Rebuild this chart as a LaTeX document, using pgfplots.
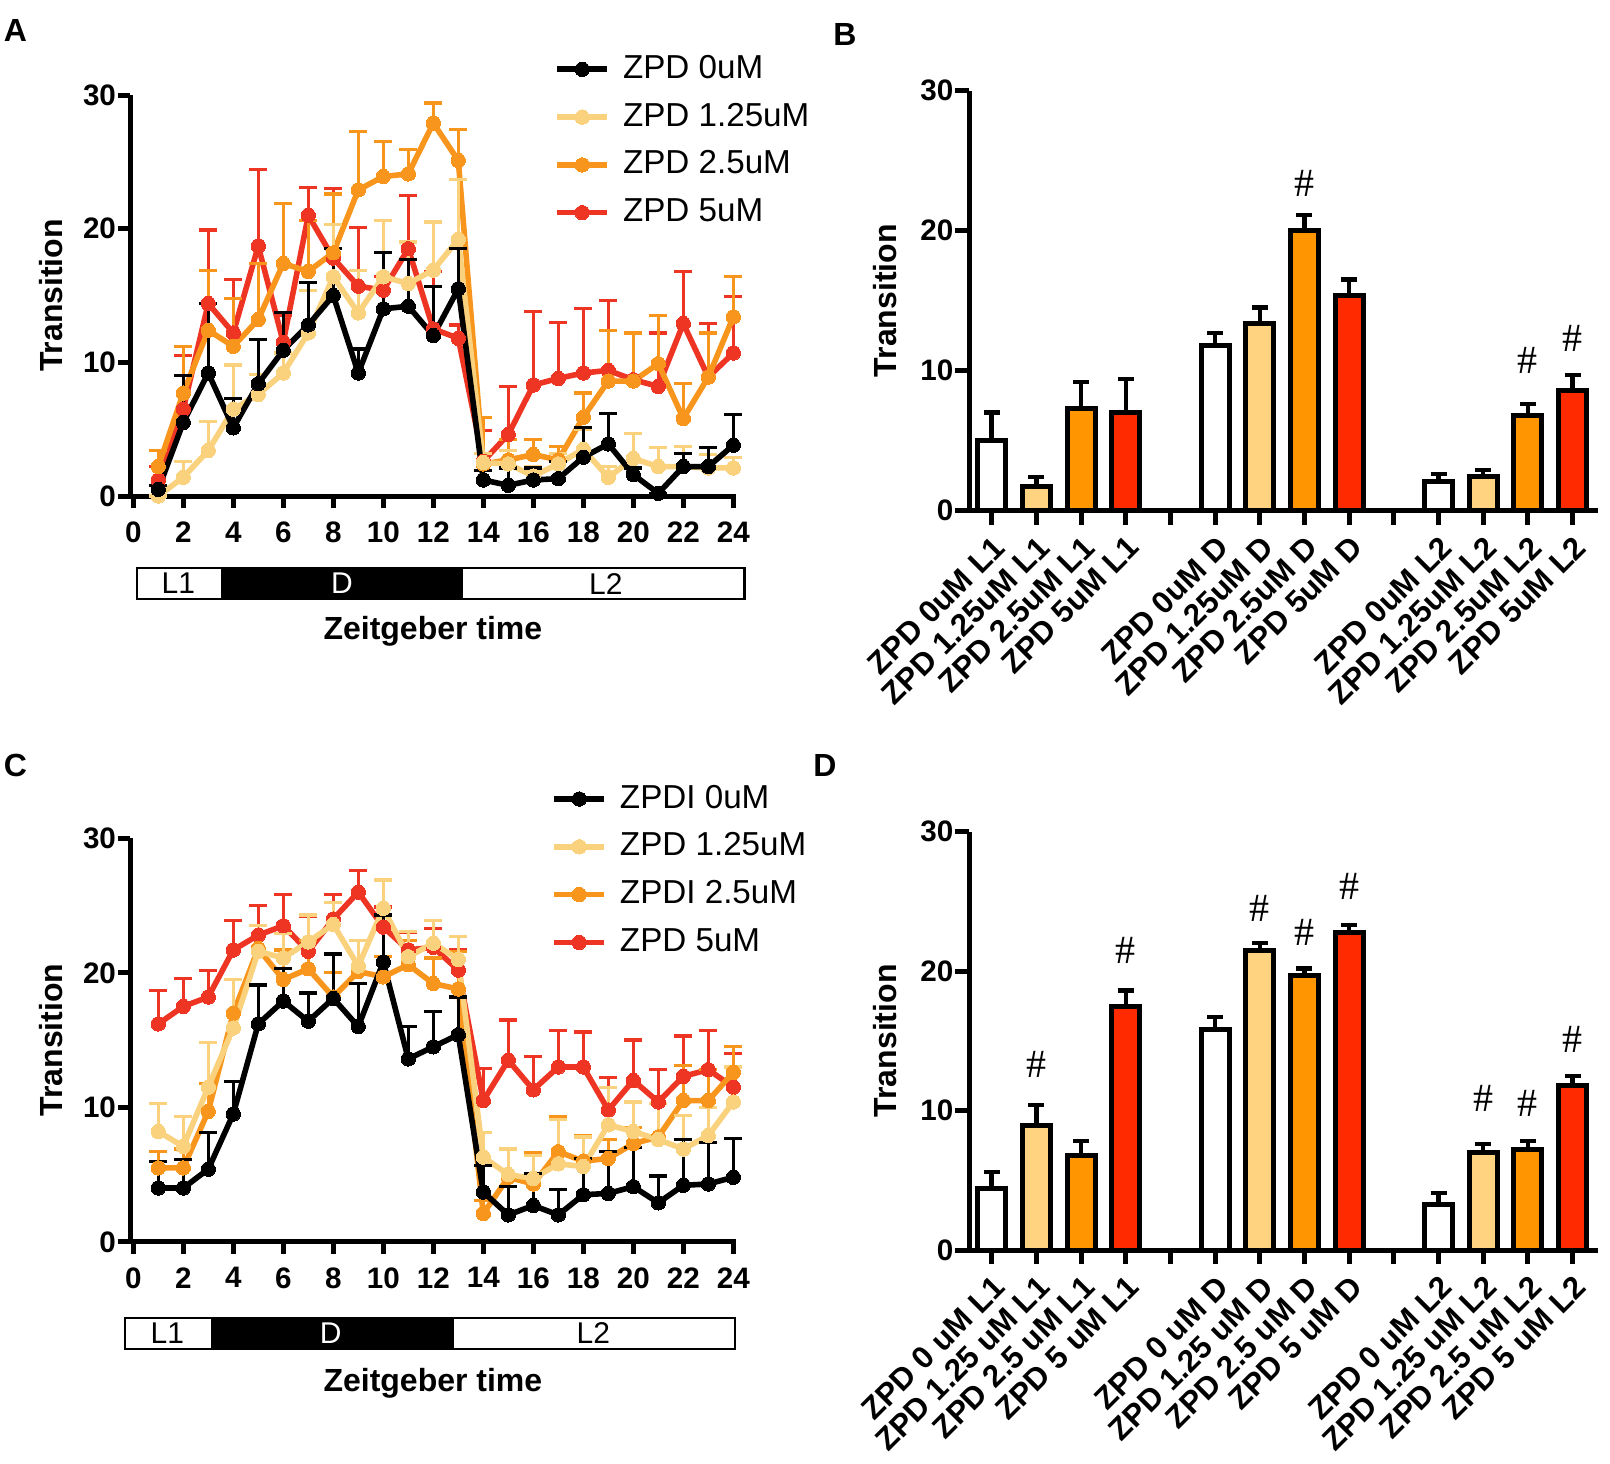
\documentclass[border=0pt]{standalone}
\usepackage{fontspec}
\setmainfont{Liberation Sans}
\newfontfamily\hashfont{Liberation Serif}
\usepackage{pgfplots}
\pgfplotsset{compat=1.18}
\usepackage{pgfplotstable}

\definecolor{clite}{HTML}{FAD17C}
\definecolor{corange}{HTML}{F8951D}
\definecolor{cred}{HTML}{EE3524}
\definecolor{blite}{HTML}{FFD37F}
\definecolor{borange}{HTML}{FF9500}
\definecolor{bred}{HTML}{FF2A00}

% ---------- Panel A data ----------
\pgfplotstableread{
x y e
1 0.5 0.3
2 5.5 3.5
3 9.2 5.2
4 5.1 2.2
5 8.4 3.3
6 10.9 2.8
7 12.8 3.2
8 15.0 3.5
9 9.2 1.8
10 14.0 4.2
11 14.2 3.5
12 12.0 3.7
13 15.5 3.0
14 1.2 0.7
15 0.8 1.3
16 1.2 0.9
17 1.3 1.3
18 2.9 2.2
19 3.9 2.3
20 1.6 0.5
21 0.2 0.0
22 2.2 1.0
23 2.2 1.4
24 3.8 2.3
}\Ablack
\pgfplotstableread{
x y e
1 0.0 0.0
2 1.4 1.2
3 3.4 2.2
4 6.5 3.3
5 7.6 1.5
6 9.2 1.5
7 12.2 3.2
8 16.4 3.9
9 13.7 3.2
10 16.4 4.2
11 15.9 3.1
12 16.9 3.6
13 19.2 4.5
14 2.5 0.7
15 2.4 1.0
16 1.5 0.7
17 2.4 0.8
18 3.5 1.5
19 1.4 0.8
20 2.8 1.9
21 2.2 1.4
22 2.2 1.5
23 2.1 1.0
24 2.1 0.8
}\Alite
\pgfplotstableread{
x y e
1 2.2 1.2
2 7.7 3.5
3 12.4 4.5
4 11.2 3.6
5 13.2 4.2
6 17.4 4.5
7 16.8 3.8
8 18.2 4.4
9 22.9 4.4
10 23.9 2.6
11 24.1 1.8
12 27.9 1.5
13 25.1 2.3
14 2.4 3.5
15 2.7 1.5
16 3.1 1.1
17 2.7 1.0
18 5.9 1.8
19 8.6 3.8
20 8.6 3.6
21 9.9 3.6
22 5.8 2.6
23 8.9 3.3
24 13.4 3.0
}\Aorange
\pgfplotstableread{
x y e
1 1.2 1.0
2 6.5 4.0
3 14.4 5.5
4 12.2 4.0
5 18.7 5.7
6 11.5 2.0
7 21.0 2.1
8 17.8 5.2
9 15.7 4.4
10 15.4 1.0
11 18.5 4.0
12 12.5 4.3
13 11.8 1.0
14 2.6 2.3
15 4.6 3.6
16 8.3 5.5
17 8.8 4.2
18 9.2 4.8
19 9.4 5.2
20 8.7 3.5
21 8.2 4.0
22 12.9 3.9
23 8.9 4.0
24 10.7 4.2
}\Ared

% ---------- Panel C data ----------
\pgfplotstableread{
x y e
1 4.0 2.0
2 4.0 2.1
3 5.4 2.7
4 9.5 2.4
5 16.2 2.9
6 17.9 2.4
7 16.4 2.1
8 18.1 3.3
9 16.0 3.2
10 20.8 3.5
11 13.6 2.4
12 14.5 2.6
13 15.4 2.8
14 3.7 2.0
15 2.0 2.1
16 2.7 2.4
17 2.0 1.9
18 3.5 2.7
19 3.6 3.1
20 4.1 2.9
21 2.9 2.0
22 4.2 3.4
23 4.3 3.1
24 4.8 2.9
}\Cblack
\pgfplotstableread{
x y e
1 8.2 2.1
2 7.1 2.2
3 11.5 3.3
4 15.9 3.6
5 21.6 1.9
6 21.1 1.8
7 22.3 2.0
8 23.6 1.6
9 20.5 1.9
10 24.8 2.1
11 21.2 1.9
12 22.2 1.7
13 21.0 1.7
14 6.3 1.8
15 5.0 1.9
16 4.7 1.7
17 5.8 3.3
18 5.6 2.2
19 8.7 2.8
20 8.2 2.2
21 7.6 2.7
22 6.9 2.5
23 7.9 2.1
24 10.4 2.6
}\Clite
\pgfplotstableread{
x y e
1 5.5 1.2
2 5.5 1.4
3 9.7 2.1
4 17.0 2.5
5 21.8 1.7
6 19.5 2.2
7 20.3 2.1
8 18.2 1.8
9 20.1 2.3
10 19.7 1.5
11 20.6 1.8
12 19.2 1.9
13 18.8 2.8
14 2.1 1.0
15 4.8 2.1
16 4.3 2.3
17 6.7 2.6
18 6.0 1.9
19 6.2 1.4
20 7.3 1.2
21 7.8 2.5
22 10.5 2.6
23 10.5 2.3
24 12.6 1.9
}\Corange
\pgfplotstableread{
x y e
1 16.2 2.5
2 17.5 2.1
3 18.2 2.0
4 21.7 2.2
5 22.8 2.2
6 23.5 2.3
7 21.6 2.6
8 24.0 1.8
9 26.0 1.6
10 23.4 1.5
11 21.7 1.3
12 21.9 1.4
13 20.2 1.5
14 10.5 2.4
15 13.5 3.0
16 11.3 2.5
17 13.0 2.7
18 13.0 2.6
19 9.8 2.4
20 12.0 3.0
21 10.4 2.4
22 12.3 3.0
23 12.8 2.9
24 11.5 2.5
}\Cred

% ---------- Panel B data ----------
\pgfplotstableread{
x y e
1 5.0 2.0
6 11.8 0.9
11 2.1 0.5
}\Bwhite
\pgfplotstableread{
x y e
2 1.7 0.7
7 13.4 1.1
12 2.4 0.5
}\Blite
\pgfplotstableread{
x y e
3 7.3 1.9
8 20.0 1.1
13 6.8 0.8
}\Borange
\pgfplotstableread{
x y e
4 7.0 2.4
9 15.4 1.1
14 8.6 1.1
}\Bred

% ---------- Panel D data ----------
\pgfplotstableread{
x y e
1 4.4 1.2
6 15.8 0.9
11 3.3 0.8
}\Dwhite
\pgfplotstableread{
x y e
2 8.9 1.5
7 21.5 0.5
12 7.0 0.6
}\Dlite
\pgfplotstableread{
x y e
3 6.8 1.0
8 19.7 0.5
13 7.2 0.6
}\Dorange
\pgfplotstableread{
x y e
4 17.5 1.1
9 22.8 0.5
14 11.8 0.7
}\Dred

\pgfplotsset{
  prism/.style={
    scale only axis, clip=false,
    axis lines=left,
    axis line style={line width=2.5pt,-},
    every tick/.style={black,line width=2.5pt},
    tick align=outside,
    major tick length=6pt,
    ymin=0, ymax=30, ytick={0,10,20,30},
    ticklabel style={font=\fontsize{14.8}{15}\selectfont\bfseries},
    yticklabel style={xshift=2.5pt},
    /pgf/number format/assume math mode=true,
    label style={font=\fontsize{16}{18}\selectfont\bfseries},
  },
  ser/.style={color=#1, line width=2.8pt, mark=*, mark size=3.6pt,
    mark options={solid, fill=#1, draw=#1, line width=0pt},
    error bars/.cd, y dir=plus, y explicit,
    error bar style={line width=1.6pt, color=#1},
    error mark options={rotate=90, mark size=4.5pt, line width=1.6pt, color=#1}},
  bser/.style={ybar, bar width=14pt, bar shift=0pt, fill=#1, draw=black, line width=2.5pt,
    error bars/.cd, y dir=plus, y explicit,
    error bar style={line width=2.2pt, black},
    error mark options={rotate=90, mark size=4pt, line width=2.2pt, black}},
  lineleg/.style={
    legend image code/.code={\draw[mark repeat=2,mark phase=2,##1] plot coordinates {(0pt,0pt) (12.5pt,0pt) (25pt,0pt)};},
    reverse legend, legend cell align=left,
    legend style={draw=none, fill=none, anchor=north west,
      font=\fontsize{16.6}{18}\selectfont, row sep=6.3pt,
      nodes={inner sep=1pt, text height=12.3pt, text depth=3.3pt},
      /tikz/every odd column/.append style={column sep=5.5pt}},
  },
}

\begin{document}
\begin{tikzpicture}
\useasboundingbox (0pt,0pt) rectangle (805pt,-731.5pt);

% panel letters
\node[font=\fontsize{16}{16}\selectfont\bfseries] at (7.7pt,-15pt) {A};
\node[font=\fontsize{16}{16}\selectfont\bfseries] at (422.5pt,-17pt) {B};
\node[font=\fontsize{16}{16}\selectfont\bfseries] at (7.7pt,-382.5pt) {C};
\node[font=\fontsize{16}{16}\selectfont\bfseries] at (412.5pt,-382.5pt) {D};

% ================= Panel A =================
\begin{axis}[prism, lineleg,
  at={(65pt,-248pt)}, anchor=south west,
  width=302.9pt, height=200.5pt,
  xmin=-0.13, xmax=24.1, xtick={0,2,...,24},
  xticklabel style={yshift=-3.3pt},
  ylabel={Transition}, xlabel={Zeitgeber time},
  ylabel style={at={(axis description cs:-0.1304,0.5)}, anchor=center},
  xlabel style={at={(axis description cs:0.5,-0.337)}, anchor=center},
  legend style={at={(0.690,1.119)}},
]
\addplot[ser=cred] table[x=x,y=y,y error=e] {\Ared};
\addlegendentry{ZPD 5uM}
\addplot[ser=corange] table[x=x,y=y,y error=e] {\Aorange};
\addlegendentry{ZPD 2.5uM}
\addplot[ser=clite] table[x=x,y=y,y error=e] {\Alite};
\addlegendentry{ZPD 1.25uM}
\addplot[ser=black] table[x=x,y=y,y error=e] {\Ablack};
\addlegendentry{ZPD 0uM}
\draw[line width=1.3pt, fill=white] (axis cs:0.15,-5.39) rectangle (axis cs:24.45,-7.70);
\fill[black] (axis cs:3.5,-5.39) rectangle (axis cs:13.2,-7.70);
\node[font=\fontsize{15}{15}\selectfont] at (axis cs:1.8,-6.55) {L1};
\node[font=\fontsize{15}{15}\selectfont, text=white] at (axis cs:8.35,-6.55) {D};
\node[font=\fontsize{15}{15}\selectfont] at (axis cs:18.9,-6.55) {L2};
\end{axis}

% ================= Panel C =================
\begin{axis}[prism, lineleg,
  at={(65pt,-620.9pt)}, anchor=south west,
  width=302.9pt, height=201.75pt,
  xmin=-0.13, xmax=24.1, xtick={0,2,...,24},
  xticklabel style={yshift=-3.3pt},
  ylabel={Transition}, xlabel={Zeitgeber time},
  ylabel style={at={(axis description cs:-0.1304,0.5)}, anchor=center},
  xlabel style={at={(axis description cs:0.5,-0.35)}, anchor=center},
  legend style={at={(0.685,1.152)}},
]
\addplot[ser=cred] table[x=x,y=y,y error=e] {\Cred};
\addlegendentry{ZPD 5uM}
\addplot[ser=corange] table[x=x,y=y,y error=e] {\Corange};
\addlegendentry{ZPDI 2.5uM}
\addplot[ser=clite] table[x=x,y=y,y error=e] {\Clite};
\addlegendentry{ZPD 1.25uM}
\addplot[ser=black] table[x=x,y=y,y error=e] {\Cblack};
\addlegendentry{ZPDI 0uM}
\draw[line width=1.3pt, fill=white] (axis cs:-0.33,-5.66) rectangle (axis cs:24.07,-7.97);
\fill[black] (axis cs:3.09,-5.66) rectangle (axis cs:12.83,-7.97);
\node[font=\fontsize{15}{15}\selectfont] at (axis cs:1.36,-6.8) {L1};
\node[font=\fontsize{15}{15}\selectfont, text=white] at (axis cs:7.9,-6.8) {D};
\node[font=\fontsize{15}{15}\selectfont] at (axis cs:18.4,-6.8) {L2};
\end{axis}

% ================= Panel B =================
\begin{axis}[prism,
  at={(484.65pt,-255.25pt)}, anchor=south west,
  width=314.4pt, height=209.9pt,
  xmin=0.5, xmax=14.57, xtick={1,...,14},
  xticklabels={ZPD 0uM L1,ZPD 1.25uM L1,ZPD 2.5uM L1,ZPD 5uM L1,{},ZPD 0uM D,ZPD 1.25uM D,ZPD 2.5uM D,ZPD 5uM D,{},ZPD 0uM L2,ZPD 1.25uM L2,ZPD 2.5uM L2,ZPD 5uM L2},
  x tick label style={rotate=45, anchor=north east, font=\fontsize{15.6}{15}\selectfont\bfseries},
  major tick length=7pt,
  ylabel={Transition},
  ylabel style={at={(axis description cs:-0.1336,0.5)}, anchor=center},
]
\addplot[bser=white] table[x=x,y=y,y error=e] {\Bwhite};
\addplot[bser=blite] table[x=x,y=y,y error=e] {\Blite};
\addplot[bser=borange] table[x=x,y=y,y error=e] {\Borange};
\addplot[bser=bred] table[x=x,y=y,y error=e] {\Bred};
\node[font=\fontsize{20}{20}\hashfont] at (axis cs:8,23.4) {\#};
\node[font=\fontsize{20}{20}\hashfont] at (axis cs:13,10.7) {\#};
\node[font=\fontsize{20}{20}\hashfont] at (axis cs:14,12.3) {\#};
\end{axis}

% ================= Panel D =================
\begin{axis}[prism,
  at={(484.65pt,-625pt)}, anchor=south west,
  width=314.4pt, height=209.15pt,
  xmin=0.5, xmax=14.57, xtick={1,...,14},
  xticklabels={ZPD 0 uM L1,ZPD 1.25 uM L1,ZPD 2.5 uM L1,ZPD 5 uM L1,{},ZPD 0 uM D,ZPD 1.25 uM D,ZPD 2.5 uM D,ZPD 5 uM D,{},ZPD 0 uM L2,ZPD 1.25 uM L2,ZPD 2.5 uM L2,ZPD 5 uM L2},
  x tick label style={rotate=45, anchor=north east, font=\fontsize{15.6}{15}\selectfont\bfseries},
  major tick length=7pt,
  ylabel={Transition},
  ylabel style={at={(axis description cs:-0.1336,0.5)}, anchor=center},
]
\addplot[bser=white] table[x=x,y=y,y error=e] {\Dwhite};
\addplot[bser=blite] table[x=x,y=y,y error=e] {\Dlite};
\addplot[bser=borange] table[x=x,y=y,y error=e] {\Dorange};
\addplot[bser=bred] table[x=x,y=y,y error=e] {\Dred};
\node[font=\fontsize{20}{20}\hashfont] at (axis cs:2,13.3) {\#};
\node[font=\fontsize{20}{20}\hashfont] at (axis cs:4,21.5) {\#};
\node[font=\fontsize{20}{20}\hashfont] at (axis cs:7,24.5) {\#};
\node[font=\fontsize{20}{20}\hashfont] at (axis cs:8,22.8) {\#};
\node[font=\fontsize{20}{20}\hashfont] at (axis cs:9,26.1) {\#};
\node[font=\fontsize{20}{20}\hashfont] at (axis cs:12,10.9) {\#};
\node[font=\fontsize{20}{20}\hashfont] at (axis cs:13,10.5) {\#};
\node[font=\fontsize{20}{20}\hashfont] at (axis cs:14,15.1) {\#};
\end{axis}
\end{tikzpicture}
\end{document}
